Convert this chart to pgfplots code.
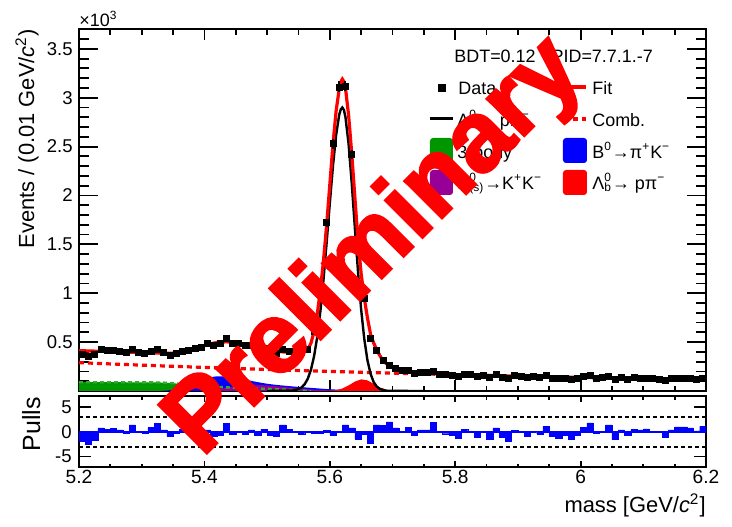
\documentclass[border=0pt]{standalone}
\usepackage{fontspec}
\setmainfont{Liberation Sans}
\newfontfamily\wmfont[BoldFeatures={FakeBold=2.5}]{Liberation Sans}
\usepackage{pgfplots}
\pgfplotsset{compat=1.18}
\definecolor{rgreen}{RGB}{0,150,0}
\definecolor{rpurple}{RGB}{150,0,150}
\newcommand\lf{\fontsize{9}{10.8}\selectfont}
\begin{document}
\begin{tikzpicture}
% ---------------- main panel ----------------
\begin{axis}[
  at={(39.5bp,68bp)}, anchor=south west, scale only axis,
  width=313.5bp, height=180.85bp,
  xmin=5.2, xmax=6.2, ymin=0, ymax=3.7,
  xtick={5.2,5.4,5.6,5.8,6.0,6.2}, xticklabels={},
  minor xtick={5.25,5.3,5.35,5.45,5.5,5.55,5.65,5.7,5.75,5.85,5.9,5.95,6.05,6.1,6.15},
  ytick={0,0.5,1,1.5,2,2.5,3,3.5}, yticklabels={,0.5,1,1.5,2,2.5,3,3.5},
  minor ytick={0.1,0.2,0.3,0.4,0.6,0.7,0.8,0.9,1.1,1.2,1.3,1.4,1.6,1.7,1.8,1.9,2.1,2.2,2.3,2.4,2.6,2.7,2.8,2.9,3.1,3.2,3.3,3.4,3.6},
  axis line style={line width=1bp},
  tick style={black, line width=0.9bp},
  xtick style={/pgfplots/major tick length=5.4bp, /pgfplots/minor tick length=2.7bp},
  ytick style={/pgfplots/major tick length=9.5bp, /pgfplots/minor tick length=4.8bp},
  yticklabel style={font=\fontsize{9.3}{11}\selectfont, inner sep=0pt, xshift=-3bp},
]
% 3-body (green)
\addplot[fill=rgreen, draw=none] coordinates {(5.2,0.09)(5.25,0.09)(5.30,0.089)(5.33,0.087)(5.35,0.080)(5.37,0.066)(5.39,0.054)(5.41,0.046)(5.43,0.039)(5.45,0.033)(5.47,0.028)(5.49,0.024)(5.51,0.020)(5.53,0.014)(5.55,0.006)(5.57,0)} \closedcycle;
% B0 -> pi K (blue)
\addplot[fill=blue, draw=none] coordinates {(5.33,0)(5.34,0.005)(5.35,0.012)(5.36,0.025)(5.37,0.045)(5.38,0.072)(5.39,0.099)(5.40,0.125)(5.41,0.142)(5.42,0.150)(5.43,0.150)(5.44,0.145)(5.45,0.136)(5.46,0.124)(5.47,0.110)(5.48,0.097)(5.49,0.085)(5.50,0.074)(5.51,0.066)(5.52,0.059)(5.53,0.053)(5.54,0.047)(5.55,0.042)(5.56,0.037)(5.57,0.032)(5.58,0.027)(5.59,0.022)(5.60,0.018)(5.62,0.011)(5.64,0.006)(5.66,0.003)(5.68,0.001)(5.70,0)} \closedcycle;
% B -> K K (purple)
\addplot[fill=rpurple, draw=none] coordinates {(5.38,0)(5.40,0.004)(5.42,0.016)(5.44,0.039)(5.46,0.061)(5.47,0.065)(5.48,0.064)(5.50,0.057)(5.52,0.046)(5.54,0.033)(5.56,0.021)(5.58,0.012)(5.60,0.006)(5.62,0.003)(5.64,0.001)(5.66,0)} \closedcycle;
% Lb -> p pi (red)
\addplot[fill=red, draw=none] coordinates {(5.59,0)(5.60,0.002)(5.61,0.008)(5.62,0.025)(5.63,0.057)(5.64,0.096)(5.65,0.119)(5.66,0.109)(5.67,0.073)(5.68,0.036)(5.69,0.013)(5.70,0.003)(5.71,0)} \closedcycle;
% green outline
\addplot[rgreen!80!white, line width=1.2bp, dash pattern=on 2bp off 1.5bp] coordinates {(5.2,0.09)(5.25,0.09)(5.30,0.089)(5.33,0.087)(5.35,0.080)(5.37,0.066)(5.39,0.054)(5.41,0.046)(5.43,0.039)(5.45,0.033)(5.47,0.028)(5.49,0.024)(5.51,0.020)(5.53,0.014)(5.55,0.006)(5.57,0)};
% combinatorial
\addplot[red, line width=1.6bp, dash pattern=on 2.5bp off 2bp] coordinates {(5.20,0.2900)(5.25,0.2770)(5.30,0.2645)(5.35,0.2526)(5.40,0.2413)(5.45,0.2304)(5.50,0.2200)(5.55,0.2102)(5.60,0.2007)(5.65,0.1917)(5.70,0.1831)(5.75,0.1748)(5.80,0.1670)(5.85,0.1595)(5.90,0.1523)(5.95,0.1455)(6.00,0.1389)(6.05,0.1327)(6.10,0.1267)(6.15,0.1210)(6.20,0.1156)};
% Lb -> p K signal
\addplot[black, line width=1.2bp] coordinates {(5.50,0)(5.54,0.004)(5.55,0.018)(5.555,0.037)(5.560,0.070)(5.565,0.127)(5.570,0.219)(5.575,0.358)(5.580,0.555)(5.585,0.818)(5.590,1.144)(5.595,1.520)(5.600,1.919)(5.605,2.299)(5.610,2.615)(5.615,2.826)(5.6175,2.881)(5.620,2.900)(5.6225,2.875)(5.625,2.801)(5.630,2.525)(5.635,2.125)(5.640,1.667)(5.645,1.220)(5.650,0.833)(5.655,0.532)(5.660,0.316)(5.665,0.176)(5.670,0.091)(5.675,0.044)(5.680,0.020)(5.690,0.003)(5.700,0.001)(5.75,0)};
% total fit
\addplot[red, line width=1.6bp] coordinates {(5.200,0.413)(5.205,0.412)(5.215,0.410)(5.225,0.408)(5.235,0.406)(5.245,0.404)(5.255,0.402)(5.265,0.400)(5.275,0.398)(5.285,0.396)(5.295,0.394)(5.305,0.392)(5.315,0.390)(5.325,0.388)(5.335,0.386)(5.345,0.386)(5.355,0.390)(5.365,0.399)(5.375,0.413)(5.385,0.432)(5.395,0.453)(5.405,0.473)(5.415,0.490)(5.425,0.500)(5.435,0.503)(5.445,0.499)(5.455,0.489)(5.465,0.475)(5.475,0.459)(5.485,0.444)(5.495,0.430)(5.505,0.418)(5.515,0.408)(5.525,0.400)(5.535,0.395)(5.545,0.394)(5.555,0.398)(5.560,0.405)(5.565,0.425)(5.570,0.49)(5.575,0.61)(5.580,0.79)(5.585,1.03)(5.590,1.34)(5.595,1.70)(5.600,2.11)(5.605,2.52)(5.610,2.86)(5.615,3.09)(5.6175,3.16)(5.620,3.19)(5.6225,3.165)(5.625,3.10)(5.630,2.82)(5.635,2.43)(5.640,1.98)(5.645,1.54)(5.650,1.20)(5.655,0.95)(5.660,0.75)(5.665,0.58)(5.670,0.49)(5.675,0.42)(5.680,0.36)(5.685,0.31)(5.690,0.28)(5.695,0.255)(5.700,0.240)(5.705,0.228)(5.715,0.211)(5.725,0.199)(5.735,0.191)(5.745,0.186)(5.755,0.181)(5.765,0.178)(5.775,0.174)(5.785,0.171)(5.795,0.169)(5.805,0.1664)(5.85,0.1595)(5.90,0.1523)(5.95,0.1455)(6.00,0.1389)(6.05,0.1327)(6.10,0.1267)(6.15,0.1210)(6.20,0.1156)};
% data
\addplot[black, only marks, mark=square*, mark size=1.5bp,
  error bars/.cd, y dir=both, y explicit, x dir=both, x fixed=0.005,
  error mark=none, error bar style={line width=1bp, black}]
  table[x=x, y=y, y error=ey] {
x y ey
5.205 0.373 0.020
5.215 0.358 0.020
5.225 0.374 0.020
5.235 0.422 0.020
5.245 0.414 0.020
5.255 0.416 0.020
5.265 0.408 0.020
5.275 0.392 0.020
5.285 0.424 0.020
5.295 0.396 0.020
5.305 0.388 0.020
5.315 0.408 0.020
5.325 0.422 0.020
5.335 0.394 0.020
5.345 0.366 0.019
5.355 0.384 0.020
5.365 0.409 0.020
5.375 0.419 0.020
5.385 0.436 0.021
5.395 0.447 0.021
5.405 0.482 0.022
5.415 0.468 0.022
5.425 0.482 0.022
5.435 0.541 0.023
5.445 0.488 0.022
5.455 0.489 0.022
5.465 0.464 0.022
5.475 0.468 0.022
5.485 0.429 0.021
5.495 0.440 0.021
5.505 0.402 0.020
5.515 0.388 0.020
5.525 0.428 0.021
5.535 0.405 0.020
5.545 0.396 0.020
5.555 0.390 0.020
5.565 0.428 0.021
5.575 0.610 0.025
5.585 1.030 0.032
5.595 1.720 0.041
5.605 2.530 0.050
5.615 3.110 0.056
5.625 3.120 0.056
5.635 2.420 0.049
5.645 1.520 0.039
5.655 0.950 0.031
5.665 0.540 0.023
5.675 0.420 0.020
5.685 0.310 0.018
5.695 0.265 0.016
5.705 0.235 0.015
5.715 0.213 0.015
5.725 0.212 0.015
5.735 0.180 0.013
5.745 0.192 0.014
5.755 0.186 0.014
5.765 0.203 0.014
5.775 0.173 0.013
5.785 0.166 0.013
5.795 0.160 0.013
5.805 0.150 0.012
5.815 0.171 0.013
5.825 0.165 0.013
5.835 0.147 0.012
5.845 0.160 0.013
5.855 0.139 0.012
5.865 0.168 0.013
5.875 0.142 0.012
5.885 0.130 0.011
5.895 0.157 0.013
5.905 0.153 0.012
5.915 0.138 0.012
5.925 0.149 0.012
5.935 0.142 0.012
5.945 0.160 0.013
5.955 0.134 0.012
5.965 0.127 0.011
5.975 0.133 0.012
5.985 0.123 0.011
5.995 0.130 0.011
6.005 0.149 0.012
6.015 0.159 0.013
6.025 0.133 0.012
6.035 0.135 0.012
6.045 0.150 0.012
6.055 0.114 0.011
6.065 0.136 0.012
6.075 0.121 0.011
6.085 0.135 0.012
6.095 0.132 0.011
6.105 0.133 0.012
6.115 0.125 0.011
6.125 0.123 0.011
6.135 0.111 0.011
6.145 0.127 0.011
6.155 0.132 0.011
6.165 0.131 0.011
6.175 0.128 0.011
6.185 0.120 0.011
6.195 0.129 0.011
};
\end{axis}
% ---------------- pull panel ----------------
\begin{axis}[
  at={(39.5bp,29.75bp)}, anchor=south west, scale only axis,
  width=313.5bp, height=35.75bp,
  xmin=5.2, xmax=6.2, ymin=-7.25, ymax=7.25,
  xtick={5.2,5.4,5.6,5.8,6.0,6.2}, xticklabels={5.2,5.4,5.6,5.8,6,6.2},
  minor xtick={5.25,5.3,5.35,5.45,5.5,5.55,5.65,5.7,5.75,5.85,5.9,5.95,6.05,6.1,6.15},
  ytick={-5,0,5}, yticklabels={-5,0,5},
  axis line style={line width=1bp},
  tick style={black, line width=0.9bp},
  xtick style={/pgfplots/major tick length=3.2bp, /pgfplots/minor tick length=1.8bp},
  ytick style={/pgfplots/major tick length=6bp},
  xticklabel style={font=\fontsize{9.6}{11}\selectfont, inner sep=0pt, yshift=-1.2bp},
  yticklabel style={font=\fontsize{9.3}{11}\selectfont, inner sep=0pt, xshift=-3.5bp},
]
\addplot[blue, line width=0.5bp, forget plot] coordinates {(5.2,0)(6.2,0)};
\addplot[ybar, bar width=0.01, fill=blue, draw=blue, line width=0.2bp] coordinates {(5.205,-1.9)(5.215,-2.6)(5.225,-1.7)(5.235,0.8)(5.245,0.5)(5.255,0.7)(5.265,0.4)(5.275,-0.3)(5.285,1.4)(5.295,0.1)(5.305,-0.2)(5.315,0.9)(5.325,1.7)(5.335,0.4)(5.345,-1.0)(5.355,-0.3)(5.365,0.5)(5.375,0.3)(5.385,0.2)(5.395,-0.3)(5.405,0.4)(5.415,-1.0)(5.425,-0.8)(5.435,1.7)(5.445,-0.5)(5.455,0)(5.465,-0.5)(5.475,0.4)(5.485,-0.7)(5.495,0.5)(5.505,-0.8)(5.515,-1.0)(5.525,1.4)(5.535,0.5)(5.545,0.1)(5.555,-0.5)(5.565,-0.1)(5.575,-0.3)(5.585,-0.2)(5.595,0.3)(5.605,-0.7)(5.615,0)(5.625,1.4)(5.635,0.8)(5.645,-1.5)(5.655,-0.5)(5.665,-2.4)(5.675,1.4)(5.685,1.3)(5.695,2.0)(5.705,0.8)(5.715,0.1)(5.725,0.9)(5.735,-0.8)(5.745,0.4)(5.755,0.4)(5.765,1.9)(5.775,-0.1)(5.785,-0.4)(5.795,-0.7)(5.805,-1.3)(5.815,0.5)(5.825,0.1)(5.835,-1.2)(5.845,0)(5.855,-1.6)(5.865,0.8)(5.875,-1.1)(5.885,-2.0)(5.895,0.3)(5.905,0.1)(5.915,-1.0)(5.925,0)(5.935,-0.5)(5.945,1.1)(5.955,-0.9)(5.965,-1.4)(5.975,-0.8)(5.985,-1.5)(5.995,-0.8)(6.005,0.9)(6.015,1.8)(6.025,-0.3)(6.035,0)(6.045,1.4)(6.055,-1.6)(6.065,0.4)(6.075,-0.8)(6.085,0.5)(6.095,0.4)(6.105,0.6)(6.115,0)(6.125,-0.1)(6.135,-1.1)(6.145,0.4)(6.155,1.0)(6.165,1.0)(6.175,0.8)(6.185,0.2)(6.195,1.1)};
\addplot[black, line width=1bp, dash pattern=on 2bp off 1.5bp] coordinates {(5.2,3)(6.2,3)};
\addplot[black, line width=1bp, dash pattern=on 2bp off 1.5bp] coordinates {(5.2,-3)(6.2,-3)};
\end{axis}
% ---------------- annotations in image pixel coordinates ----------------
\begin{scope}[x=0.5bp, y=-0.5bp, yshift=263.5bp]
\node[anchor=base west, inner sep=0pt, font=\fontsize{9}{10}\selectfont] at (79,27) {×10\textsuperscript{3}};
\node[anchor=base east, rotate=90, inner sep=0pt, font=\fontsize{11}{13}\selectfont] at (34,29) {Events / (0.01 GeV/\textit{c}\textsuperscript{2})};
\node[anchor=base east, rotate=90, inner sep=0pt, font=\fontsize{12.5}{14}\selectfont] at (40,397) {Pulls};
\node[anchor=base east, inner sep=0pt, font=\fontsize{11}{13}\selectfont] at (706,512.5) {mass [GeV/\textit{c}\textsuperscript{2}]};
% legend
\node[anchor=base west, inner sep=0pt, font=\lf] at (454,63) {BDT=0.12\hspace{8bp}PID=7.7.1.-7};
\fill[black] (438,84) rectangle (446,92);
\node[anchor=base west, inner sep=0pt, font=\lf] at (458,94.5) {Data};
\draw[red, line width=1.6bp] (564,87) -- (586,87);
\node[anchor=base west, inner sep=0pt, font=\lf] at (592,94.5) {Fit};
\draw[black, line width=1.5bp] (430,119) -- (453,119);
\node[anchor=base west, inner sep=0pt, font=\lf] at (457,126.5) {Λ\textsuperscript{0}\llap{\textsubscript{b}}→ pK\textsuperscript{−}};
\draw[red, line width=1.6bp, dash pattern=on 2.5bp off 2bp] (564,119) -- (586,119);
\node[anchor=base west, inner sep=0pt, font=\lf] at (592,126.5) {Comb.};
\fill[rgreen, rounded corners=1.5bp] (430,138) rectangle (453,163);
\node[anchor=base west, inner sep=0pt, font=\lf] at (457,158.5) {3-body};
\fill[blue, rounded corners=1.5bp] (563,138) rectangle (587,163);
\node[anchor=base west, inner sep=0pt, font=\lf] at (592,158.5) {B\textsuperscript{0}→π\textsuperscript{+}K\textsuperscript{−}};
\fill[rpurple, rounded corners=1.5bp] (430,170) rectangle (453,195);
\node[anchor=base west, inner sep=0pt, font=\lf] at (457,189.5) {B\rlap{\textsuperscript{0}}\textsubscript{(s)}→K\textsuperscript{+}K\textsuperscript{−}};
\fill[red, rounded corners=1.5bp] (563,170) rectangle (587,195);
\node[anchor=base west, inner sep=0pt, font=\lf] at (592,189.5) {Λ\textsuperscript{0}\llap{\textsubscript{b}}→ pπ\textsuperscript{−}};
% watermark
\node[anchor=base, rotate=45, inner sep=0pt, text=red, font=\wmfont\fontsize{50}{56}\selectfont\bfseries] at (394,266) {Preliminary};
\end{scope}
\pgfresetboundingbox
\path (0,0) rectangle (366bp,263.5bp);
\end{tikzpicture}
\end{document}
